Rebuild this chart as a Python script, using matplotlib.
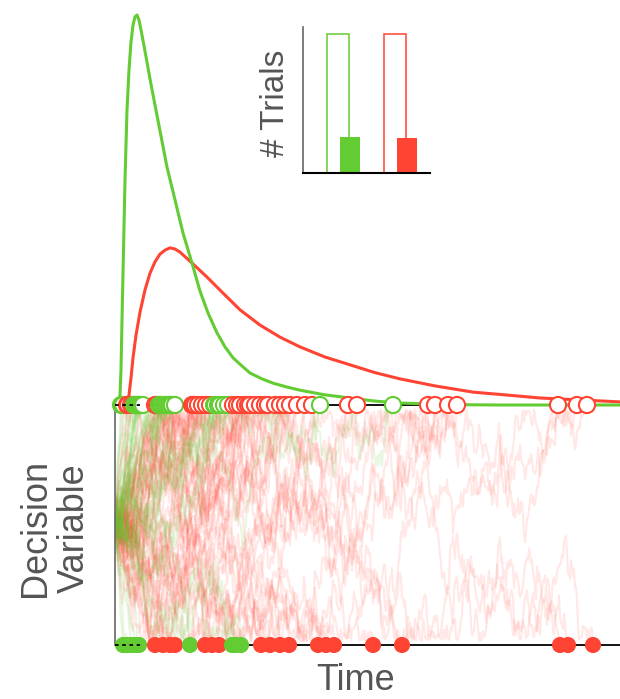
import numpy as np
import matplotlib
matplotlib.use("Agg")
import matplotlib.pyplot as plt

plt.rcParams['font.family'] = ['Liberation Sans', 'DejaVu Sans']

GREEN = '#64cc33'
RED = '#ff4433'
TEXT = '#555555'

# predicted RT densities (time units, density normalised to the green peak)
green_t = [0.03, 0.05, 0.06, 0.07, 0.085, 0.10, 0.12, 0.14, 0.16, 0.18, 0.20, 0.22,
           0.24, 0.26, 0.29, 0.32, 0.35, 0.40, 0.45, 0.52, 0.60, 0.68,
           0.77, 0.85, 0.93, 1.02, 1.10, 1.18, 1.27, 1.35, 1.47, 1.58, 1.72, 1.85,
           2.10, 2.35, 2.60, 2.85, 3.35, 3.85, 5.05]
green_d = [0.000, 0.026, 0.090, 0.218, 0.397, 0.577, 0.756, 0.859, 0.931, 0.974, 0.995, 1.000,
           0.987, 0.962, 0.921, 0.879, 0.836, 0.769, 0.703, 0.610, 0.526, 0.441,
           0.364, 0.292, 0.236, 0.185, 0.149, 0.121, 0.100, 0.082, 0.067, 0.056, 0.046, 0.038,
           0.026, 0.018, 0.010, 0.005, 0.001, 0.000, 0.000]
red_t = [0.12, 0.14, 0.16, 0.18, 0.21, 0.25, 0.30, 0.35, 0.40, 0.45, 0.50, 0.55, 0.60,
         0.65, 0.77, 0.92, 1.08, 1.25, 1.45, 1.65, 1.85, 2.10, 2.35, 2.60, 2.85, 3.20,
         3.58, 3.90, 4.25, 4.65, 5.05]
red_d = [0.000, 0.026, 0.069, 0.121, 0.179, 0.238, 0.295, 0.338, 0.367, 0.387, 0.397, 0.403, 0.400,
         0.392, 0.364, 0.328, 0.287, 0.244, 0.205, 0.174, 0.149, 0.123, 0.103, 0.083, 0.067, 0.049,
         0.033, 0.026, 0.018, 0.013, 0.008]

# boundary crossing times for single trials
green_upper = [0.06, 0.07, 0.08, 0.19, 0.20, 0.21, 0.22, 0.23, 0.24, 0.25, 0.26, 0.28,
               0.44, 0.45, 0.46, 0.48, 0.50, 0.51, 0.53, 0.54, 0.56, 0.57, 0.60,
               0.99, 1.00, 1.03, 1.05, 1.09, 1.13, 2.05, 2.78]
green_lower = [0.08, 0.12, 0.16, 0.20, 0.24, 0.75, 1.17, 1.21, 1.26]
red_upper = [0.12, 0.13, 0.16, 0.18, 0.40, 0.42, 0.77, 0.78, 0.80, 0.83, 0.87, 0.91,
             0.95, 1.18, 1.22, 1.25, 1.30, 1.33, 1.35, 1.40, 1.45, 1.50, 1.53, 1.60,
             1.65, 1.70, 1.75, 1.82, 1.90, 1.97, 2.33, 2.42, 3.13, 3.20, 3.33, 3.42,
             4.43, 4.62, 4.72]
red_lower = [0.40, 0.48, 0.55, 0.60, 0.90, 0.97, 1.04, 1.46, 1.55, 1.65, 1.74, 2.03,
             2.11, 2.19, 2.58, 2.87, 4.45, 4.53, 4.78]

# inset: number of trials ending at each bound
bar_pos = [3.2, 7.7]
upper_counts = [80, 80]
lower_counts = [21, 20]

T_MAX = 5.05
T_ND = 0.25

W, H = 620, 699


def px_rect(left, top, right, bottom):
    return [left / W, 1 - bottom / H, (right - left) / W, (bottom - top) / H]


rng = np.random.default_rng(11)


def fold(y, lim=0.97):
    """reflect values back inside [-lim, lim]"""
    p = 4 * lim
    y = np.mod(y + lim, p)
    return np.where(y > 2 * lim, p - y, y) - lim


def trace(t_end, y_end, dt=0.01, sigma=0.8):
    """jittery path from the start point to the bound it hits (texture only)"""
    n = max(int(round(t_end / dt)), 2)
    t = np.linspace(0, t_end, n + 1)
    w = np.concatenate([[0], np.cumsum(rng.normal(0, sigma * np.sqrt(dt), n))])
    y = y_end * t / t_end + w - t / t_end * w[-1]
    y[:-1] = fold(y[:-1])
    y[-1] = y_end
    return t, y


fig = plt.figure(figsize=(6.2, 6.99), dpi=100)
ax_dv = fig.add_axes(px_rect(115, 405, 620, 645))
ax_rt = fig.add_axes(px_rect(115, 0, 620, 405))
ax_bar = fig.add_axes(px_rect(303, 27, 430, 173))

# decision variable traces, red ones underneath the green ones
for col, ups, lows, alpha in ((RED, red_upper, red_lower, 0.12),
                              (GREEN, green_upper, green_lower, 0.14)):
    trials = [(t, 1) for t in ups] + [(t, -1) for t in lows]
    trials.sort()
    for t_end, y_end in trials:
        tt, yy = trace(t_end, y_end)
        ax_dv.plot(tt, yy, color=col, alpha=alpha, lw=1.5, zorder=1)

ax_dv.plot([T_ND, T_MAX], [-1, -1], color='k', lw=1.3, zorder=2, clip_on=False)
ax_dv.plot([0, T_ND], [-1, -1], color='k', lw=1.3, ls=(0, (2, 2)), zorder=5, clip_on=False)
low_t = np.array(green_lower + red_lower)
low_c = np.array([GREEN] * len(green_lower) + [RED] * len(red_lower))
order = np.argsort(low_t, kind='stable')
ax_dv.scatter(low_t[order], np.full(len(low_t), -1.0), s=135, c=low_c[order], lw=0,
              zorder=3, clip_on=False)

ax_dv.set_xlim(0, T_MAX)
ax_dv.set_ylim(-1, 1)
for pos in ('top', 'right', 'bottom'):
    ax_dv.spines[pos].set_visible(False)
ax_dv.spines['left'].set_color('#666666')
ax_dv.spines['left'].set_linewidth(1.2)
ax_dv.set_xticks([])
ax_dv.set_yticks([])
ax_dv.patch.set_visible(False)

# RT distributions above the upper bound
ax_rt.plot([T_ND, T_MAX], [0, 0], color='k', lw=1.3, zorder=1, clip_on=False)
ax_rt.plot(red_t, red_d, color=RED, lw=2.2, zorder=2, clip_on=False)
ax_rt.plot(green_t, green_d, color=GREEN, lw=2.2, zorder=2, clip_on=False)
up_t = np.array(green_upper + red_upper)
up_c = np.array([GREEN] * len(green_upper) + [RED] * len(red_upper))
order = np.argsort(up_t, kind='stable')
ax_rt.scatter(up_t[order], np.zeros(len(up_t)), s=135, facecolors='white',
              edgecolors=up_c[order], linewidths=1.5, zorder=3, clip_on=False)
ax_rt.plot([0, T_ND], [0, 0], color='k', lw=1.3, ls=(0, (2, 2)), zorder=5, clip_on=False)
ax_rt.set_xlim(0, T_MAX)
ax_rt.set_ylim(0, 405 / 390)
ax_rt.axis('off')

# inset bar chart
cols = [GREEN, RED]
ax_bar.bar([p - 0.45 for p in bar_pos], upper_counts, width=1.73, facecolor='white',
           edgecolor=cols, linewidth=1.1)
ax_bar.bar([p + 0.5 for p in bar_pos], lower_counts, width=1.57, color=cols, linewidth=0)
ax_bar.set_xlim(0, 10)
ax_bar.set_ylim(0, 84)
ax_bar.spines['top'].set_visible(False)
ax_bar.spines['right'].set_visible(False)
ax_bar.spines['left'].set_color('#666666')
ax_bar.spines['left'].set_linewidth(1.2)
ax_bar.spines['bottom'].set_color('k')
ax_bar.spines['bottom'].set_linewidth(1.5)
ax_bar.set_xticks([])
ax_bar.set_yticks([])
ax_bar.patch.set_visible(False)

fig.text(275 / W, 1 - 103 / H, '# Trials', rotation=90, ha='center', va='center',
         fontsize=24, color=TEXT)
fig.text(55 / W, 1 - 528 / H, 'Decision\nVariable', rotation=90, ha='center', va='center',
         multialignment='center', fontsize=26, color=TEXT, linespacing=1.15)
fig.text(356 / W, 0.002, 'Time', ha='center', va='bottom', fontsize=26, color=TEXT)

fig.savefig('out.png', dpi=100)
